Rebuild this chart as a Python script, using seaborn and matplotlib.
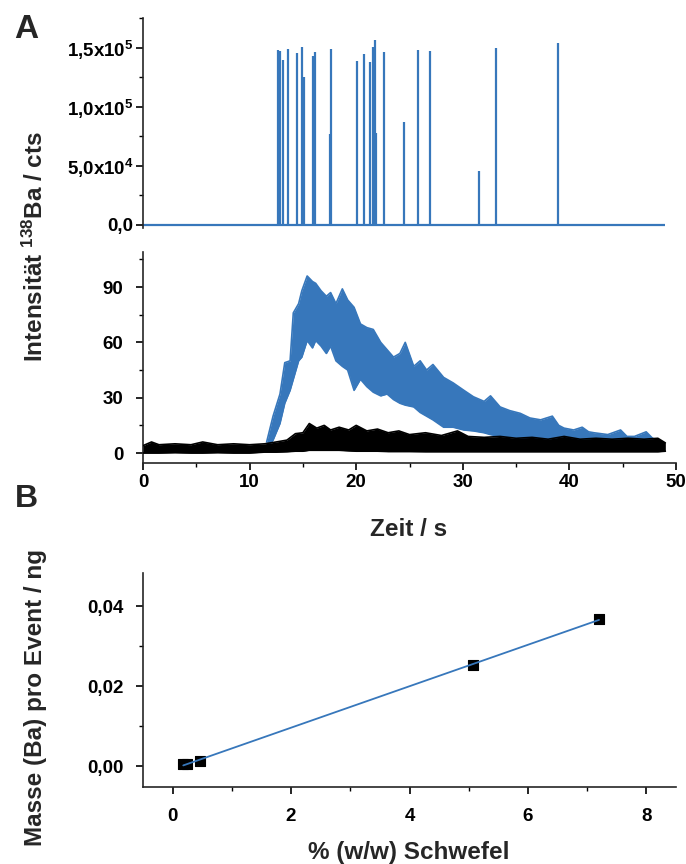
import numpy as np
import pandas as pd
import matplotlib
matplotlib.use("Agg")
import matplotlib.pyplot as plt
from matplotlib.ticker import MultipleLocator, FixedLocator, FixedFormatter
from matplotlib import font_manager as fm
import seaborn as sns

# ---------------- data ----------------
# Panel A (top): single-particle spikes of 138Ba
spike_t = [12.63, 12.84, 13.09, 13.58, 14.44, 14.94, 15.10, 15.93, 16.13, 17.55, 17.65,
           20.08, 20.74, 21.32, 21.56, 21.77, 21.82, 22.63, 24.49, 25.80, 26.95, 31.48,
           33.13, 38.89]
spike_h = [1.48e5, 1.477e5, 1.40e5, 1.49e5, 1.457e5, 1.505e5, 1.25e5, 1.43e5, 1.466e5, 7.7e4, 1.49e5,
           1.39e5, 1.445e5, 1.38e5, 1.505e5, 1.57e5, 7.8e4, 1.47e5, 8.7e4, 1.485e5, 1.475e5, 4.6e4,
           1.50e5, 1.54e5]
baseline_t = [0.0, 49.0]
baseline_v = [0.0, 0.0]

# Panel A (bottom): noisy transient signals, read as upper/lower envelopes
blue_t = [11.6, 12.2, 12.85, 13.3, 13.8, 14.1, 14.6, 14.9, 15.4, 15.9, 16.2, 16.7, 17.2, 17.6,
          18.1, 18.7, 19.2, 19.8, 20.4, 21.0, 21.6, 22.3, 22.9, 23.5, 24.1, 24.6, 25.4, 26.0,
          26.6, 27.2, 28.2, 29.1, 30.1, 31.0, 32.0, 32.6, 33.5, 34.4, 35.4, 36.3, 37.3, 38.4,
          39.0, 39.5, 40.4, 41.2, 41.8, 42.3, 43.6, 44.8, 45.4, 46.1, 47.2, 47.8, 48.3, 48.9]
blue_hi = [6, 20, 32, 49, 50, 76, 81, 88, 96, 93, 92, 88, 85, 87,
           81, 89, 83, 79, 70, 68, 67, 60, 56, 52, 54, 60, 47, 50,
           45, 48, 41, 38, 34, 30.5, 28, 31, 25, 23, 21.5, 19, 18, 20,
           15, 13.5, 12.5, 14, 11.5, 11, 10, 12.5, 9, 9, 11.5, 8, 7, 5]
blue_lo = [3, 7, 16, 27, 34, 40, 50, 52, 61, 57, 61, 58, 54, 58,
           50, 47, 45, 34, 40, 36, 33, 31, 32, 29, 27, 26, 25, 22,
           20, 18, 14, 14, 12.5, 12, 11, 10, 9, 8.5, 8, 7, 7, 6.5,
           6, 6, 5.5, 5, 5, 5, 4.5, 4, 4, 4, 3.5, 3.5, 3, 2.5]
black_t = [0, 0.8, 1.5, 3, 4.5, 5.6, 7, 8.5, 10, 11.4, 12.5, 13.5, 14.3, 15.0, 15.6, 16.3,
           17.0, 17.6, 18.4, 19.3, 20.0, 21.0, 22.0, 23.0, 24.0, 25.0, 26.5, 28.0, 29.5, 30.5,
           32.0, 33.5, 35.0, 36.5, 38.0, 39.5, 41.0, 42.5, 44.0, 45.5, 47.0, 48.3, 49.0]
black_hi = [4, 6, 4.5, 5, 4.5, 6, 4.5, 5, 4.5, 5, 6, 7, 10.5, 11, 16, 13.5,
            15, 12.5, 14, 12.5, 15, 12, 13, 11, 12, 10, 11, 9.5, 12, 9,
            8.5, 9, 8, 8.5, 7.5, 9, 7.5, 8, 7.5, 8, 7.5, 8, 5.5]
black_lo = [0, 0, 0, 0.2, 0, 0, 0.2, 0, 0, 0.5, 0.5, 0.7, 1, 1, 1.5, 1.5,
            1.5, 1.5, 1.5, 1.2, 1, 1, 1, 0.8, 0.8, 0.8, 0.7, 0.7, 0.7, 0.7,
            0.7, 0.7, 0.7, 0.7, 0.7, 0.7, 0.7, 0.7, 0.7, 0.7, 0.7, 0.7, 1]

# Panel B: calibration
schwefel = [0.18, 0.24, 0.46, 5.07, 7.20]
masse = [0.0005, 0.0006, 0.0012, 0.0252, 0.0368]

# tick labels
a_top_ticks = [0, 5e4, 1e5, 1.5e5]
a_top_labels = ["0,0", "5,0x10$^{4}$", "1,0x10$^{5}$", "1,5x10$^{5}$"]
a_bot_yticks = [0, 30, 60, 90]
a_bot_ylabels = ["0", "30", "60", "90"]
a_xticks = [0, 10, 20, 30, 40, 50]
b_xticks = [0, 2, 4, 6, 8]
b_yticks = [0.0, 0.02, 0.04]
b_ylabels = ["0,00", "0,02", "0,04"]

# ---------------- style ----------------
sns.set_style("ticks")
names = {f.name for f in fm.fontManager.ttflist}
FONT = "Liberation Sans" if "Liberation Sans" in names else "DejaVu Sans"
plt.rcParams["font.family"] = [FONT, "DejaVu Sans"]
plt.rcParams["mathtext.default"] = "regular"
plt.rcParams["axes.linewidth"] = 1.2

BLUE = "#3777bb"
TICK_FS = 13.5
LAB_FS = 17.5

fig = plt.figure(figsize=(6.86, 8.64), dpi=100)
W, H = 686.0, 864.0
L = 143 / W
AW = 533 / W

def style_ticks(ax, pad_x=3, pad_y=4):
    ax.tick_params(which="major", direction="out", length=5, width=1.2, colors="black")
    ax.tick_params(which="minor", direction="out", length=3, width=1.0, colors="black")
    ax.tick_params(axis="x", pad=pad_x)
    ax.tick_params(axis="y", pad=pad_y)
    for lab in ax.get_xticklabels() + ax.get_yticklabels():
        lab.set_fontweight("bold")
        lab.set_fontsize(TICK_FS)

# ---- Panel A top ----
ax1 = fig.add_axes([L, 1 - 228.5 / H, AW, (228.5 - 18) / H])
ax1.plot(baseline_t, baseline_v, color=BLUE, lw=1.6, solid_capstyle="butt")
ax1.vlines(spike_t, 0, spike_h, color=BLUE, lw=1.6)
ax1.set_xlim(0, 50)
ax1.set_ylim(-3000, 175400)
for s in ["top", "right", "bottom"]:
    ax1.spines[s].set_visible(False)
ax1.xaxis.set_visible(False)
ax1.yaxis.set_major_locator(FixedLocator(a_top_ticks))
ax1.yaxis.set_major_formatter(FixedFormatter(a_top_labels))
ax1.yaxis.set_minor_locator(MultipleLocator(2.5e4))
style_ticks(ax1, pad_y=2)

# ---- Panel A bottom ----
ax2 = fig.add_axes([L, 1 - 463 / H, AW, 211 / H])
ax2.fill_between(blue_t, blue_lo, blue_hi, color=BLUE, lw=0, zorder=1)
sns.lineplot(x=blue_t, y=blue_hi, ax=ax2, color=BLUE, lw=1.2, estimator=None, sort=False, zorder=1.5)
sns.lineplot(x=blue_t, y=blue_lo, ax=ax2, color=BLUE, lw=1.2, estimator=None, sort=False, zorder=1.5)
ax2.fill_between(black_t, black_lo, black_hi, color="black", lw=0, zorder=3)
sns.lineplot(x=black_t, y=black_hi, ax=ax2, color="black", lw=1.2, estimator=None, sort=False, zorder=3.5)
sns.lineplot(x=black_t, y=black_lo, ax=ax2, color="black", lw=1.2, estimator=None, sort=False, zorder=3.5)
ax2.set_xlim(0, 50)
ax2.set_ylim(-5.4, 109)
sns.despine(ax=ax2)
ax2.set_xticks(a_xticks)
ax2.xaxis.set_minor_locator(MultipleLocator(5))
ax2.set_yticks(a_bot_yticks)
ax2.set_yticklabels(a_bot_ylabels)
ax2.yaxis.set_minor_locator(MultipleLocator(15))
ax2.set_xlabel("")
ax2.set_ylabel("")
style_ticks(ax2, pad_x=3, pad_y=9)

# ---- Panel B ----
ax3 = fig.add_axes([L, 1 - 787 / H, AW, 214 / H])
dfb = pd.DataFrame({"S": schwefel, "M": masse})
sns.scatterplot(data=dfb, x="S", y="M", ax=ax3, marker="s", s=60, color="black",
                edgecolor="black", linewidth=0.8, zorder=3)
sns.regplot(data=dfb, x="S", y="M", ax=ax3, scatter=False, ci=None, truncate=True,
            line_kws=dict(color=BLUE, lw=1.3, zorder=4))
ax3.set_xlim(-0.5, 8.5)
ax3.set_ylim(-0.00525, 0.0483)
sns.despine(ax=ax3)
ax3.set_xticks(b_xticks)
ax3.xaxis.set_minor_locator(MultipleLocator(1))
ax3.set_yticks(b_yticks)
ax3.set_yticklabels(b_ylabels)
ax3.yaxis.set_minor_locator(MultipleLocator(0.01))
ax3.set_xlabel("")
ax3.set_ylabel("")
style_ticks(ax3, pad_x=10, pad_y=9)

# ---- texts ----
fig.text(26 / W, 1 - 30 / H, "A", fontsize=24, fontweight="bold", ha="center", va="center")
fig.text(26 / W, 1 - 499 / H, "B", fontsize=23, fontweight="bold", ha="center", va="center")
fig.text(35 / W, 1 - 247 / H, "Intensität $^{138}$Ba / cts", fontsize=LAB_FS, fontweight="bold",
         rotation=90, ha="center", va="center")
fig.text(409 / W, 1 - 529 / H, "Zeit / s", fontsize=LAB_FS, fontweight="bold",
         ha="center", va="center")
fig.text(36 / W, 1 - 697 / H, "Masse (Ba) pro Event / ng", fontsize=LAB_FS, fontweight="bold",
         rotation=90, ha="center", va="center")
fig.text(409 / W, 1 - 852 / H, "% (w/w) Schwefel", fontsize=LAB_FS, fontweight="bold",
         ha="center", va="center")

fig.savefig("out.png", dpi=100)
